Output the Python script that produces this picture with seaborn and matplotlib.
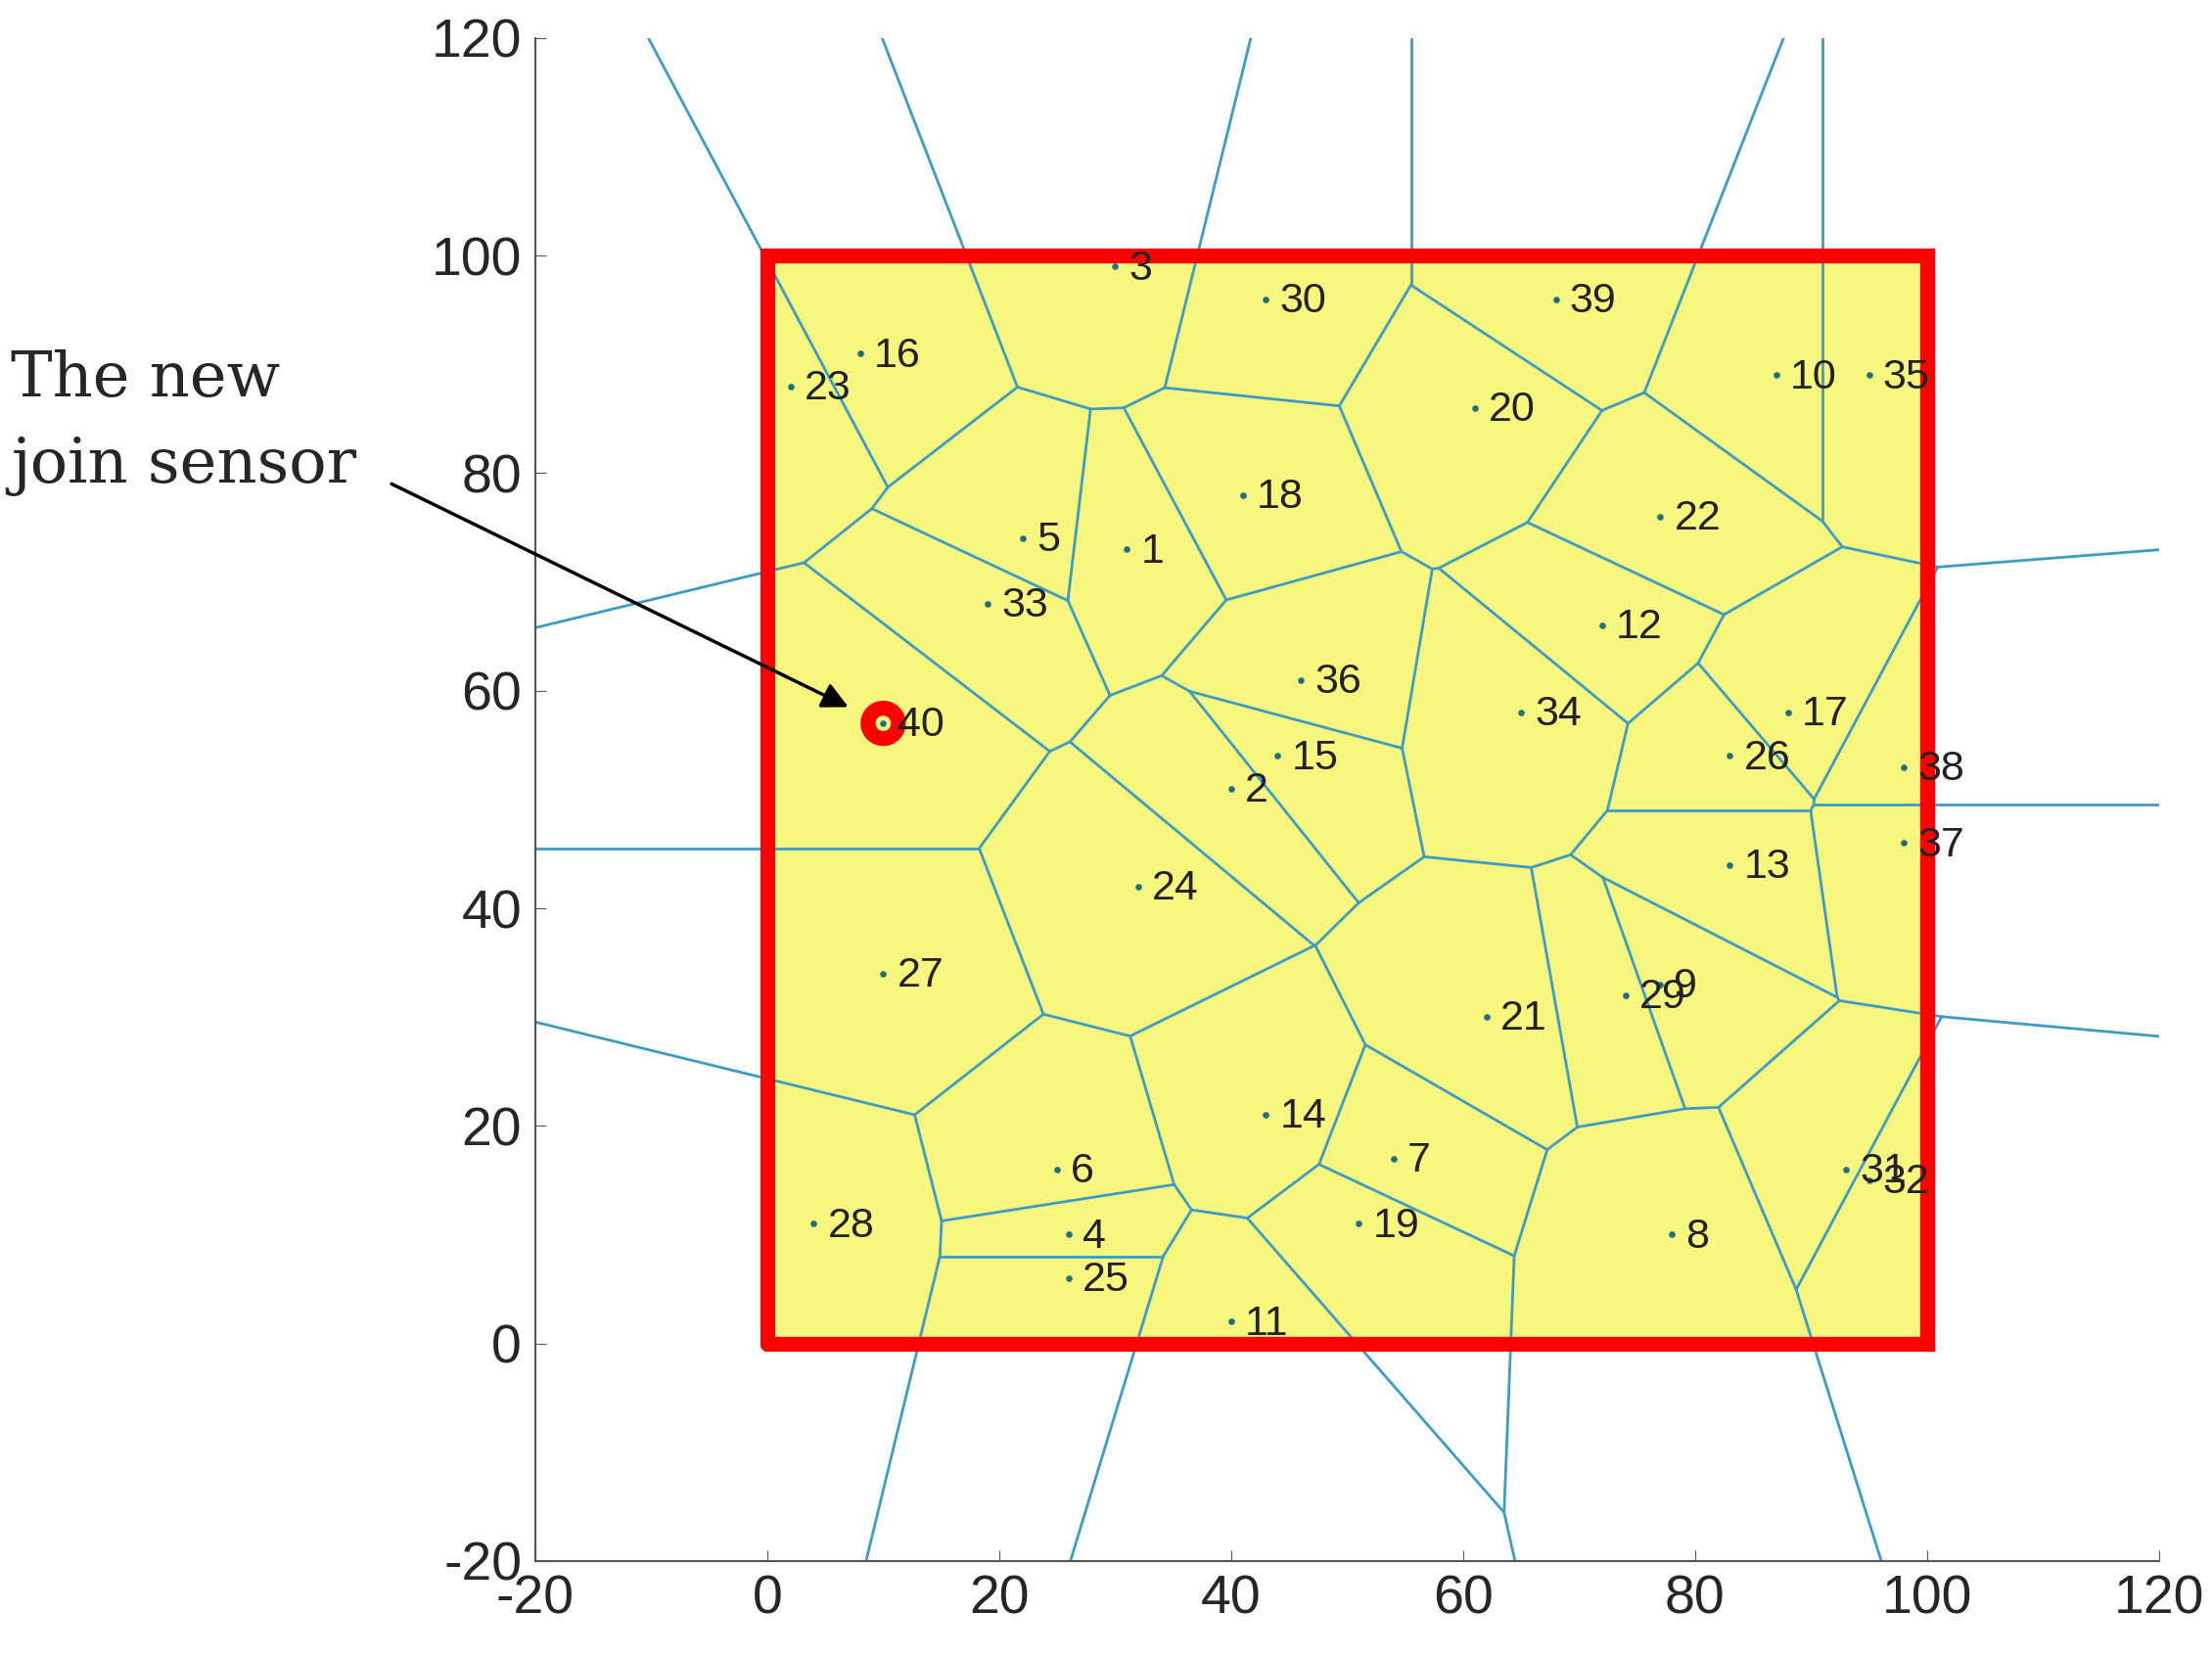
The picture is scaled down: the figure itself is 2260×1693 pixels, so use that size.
import numpy as np
import matplotlib
matplotlib.use("Agg")
import matplotlib.pyplot as plt
import matplotlib.tri as mtri
import seaborn as sns

# sensor positions
sensor_id = list(range(1, 41))
sensor_x = [31, 40, 30, 26, 22, 25, 54, 78, 77, 87, 40, 72, 83, 43, 44, 8, 88, 41, 51, 61,
            62, 77, 2, 32, 26, 83, 10, 4, 74, 43, 93, 95, 19, 65, 95, 46, 98, 98, 68, 10]
sensor_y = [73, 51, 99, 10, 74, 16, 17, 10, 33, 89, 2, 66, 44, 21, 54, 91, 58, 78, 11, 86,
            30, 76, 88, 42, 6, 54, 34, 11, 32, 96, 16, 15, 68, 58, 89, 61, 46, 53, 96, 57]
ticks = [-20, 0, 20, 40, 60, 80, 100, 120]

sns.set_style("white")
plt.rcParams["font.family"] = ["Liberation Sans", "DejaVu Sans"]
plt.rcParams["axes.unicode_minus"] = False
fig = plt.figure(figsize=(22.6, 16.93), dpi=100)
ax = fig.add_axes([0.242, 0.058, 0.734, 0.919])

x = np.array(sensor_x, float)
y = np.array(sensor_y, float)
pts = np.column_stack([x, y])

# yellow region and red border
ax.fill([0, 100, 100, 0], [0, 0, 100, 100], color="#f7f77f", zorder=0)
ax.plot([0, 100, 100, 0, 0], [0, 0, 100, 100, 0], color="red", lw=11, zorder=3, solid_joinstyle="miter")

# voronoi edges from Delaunay triangulation
tri = mtri.Triangulation(x, y)
T = tri.triangles
N = tri.neighbors
cc = []
for a, b, c in T:
    A, B, C = pts[a], pts[b], pts[c]
    d = 2 * (A[0] * (B[1] - C[1]) + B[0] * (C[1] - A[1]) + C[0] * (A[1] - B[1]))
    ux = ((A @ A) * (B[1] - C[1]) + (B @ B) * (C[1] - A[1]) + (C @ C) * (A[1] - B[1])) / d
    uy = ((A @ A) * (C[0] - B[0]) + (B @ B) * (A[0] - C[0]) + (C @ C) * (B[0] - A[0])) / d
    cc.append((ux, uy))
cc = np.array(cc)
center = pts.mean(axis=0)
edge_col = "#3d9cc4"
for t in range(len(T)):
    for j in range(3):
        n = N[t, j]
        if n > t:
            ax.plot([cc[t, 0], cc[n, 0]], [cc[t, 1], cc[n, 1]], color=edge_col, lw=2, zorder=2)
        elif n == -1:
            p1, p2 = pts[T[t, j]], pts[T[t, (j + 1) % 3]]
            e = p2 - p1
            nrm = np.array([e[1], -e[0]])
            mid = (p1 + p2) / 2
            if np.dot(mid - center, nrm) < 0:
                nrm = -nrm
            nrm = nrm / np.linalg.norm(nrm)
            end = cc[t] + nrm * 500
            ax.plot([cc[t, 0], end[0]], [cc[t, 1], end[1]], color=edge_col, lw=2, zorder=2)

# sensors and labels
ax.scatter(x, y, s=14, color="#1f6f80", zorder=5)
for i, xx, yy in zip(sensor_id, x, y):
    ax.text(xx + 1.2, yy - 1.2, str(i), fontsize=31, color="#222222", zorder=6)
ax.scatter([10], [57], s=500, facecolor="none", edgecolor="red", linewidth=11, zorder=4)

fig.text(0.005, 0.745, "The new\njoin sensor", fontsize=46, family="DejaVu Serif",
         ha="left", va="center", linespacing=1.55)
ax.annotate("", xy=(7, 58.5), xytext=(0.177, 0.708), xycoords="data",
            textcoords="figure fraction", annotation_clip=False,
            arrowprops=dict(arrowstyle="-|>", color="black", lw=2.5, mutation_scale=40,
                            shrinkA=0, shrinkB=0))

ax.set_xlim(-20, 120)
ax.set_ylim(-20, 120)
ax.set_xticks(ticks)
ax.set_yticks(ticks)
ax.tick_params(labelsize=40, length=8, pad=10, direction="in", color="#555555", left=True, bottom=True)
for s in ["top", "right"]:
    ax.spines[s].set_visible(False)
for s in ["left", "bottom"]:
    ax.spines[s].set_color("#555555")
    ax.spines[s].set_linewidth(1.5)

fig.savefig("out.png", dpi=100)
